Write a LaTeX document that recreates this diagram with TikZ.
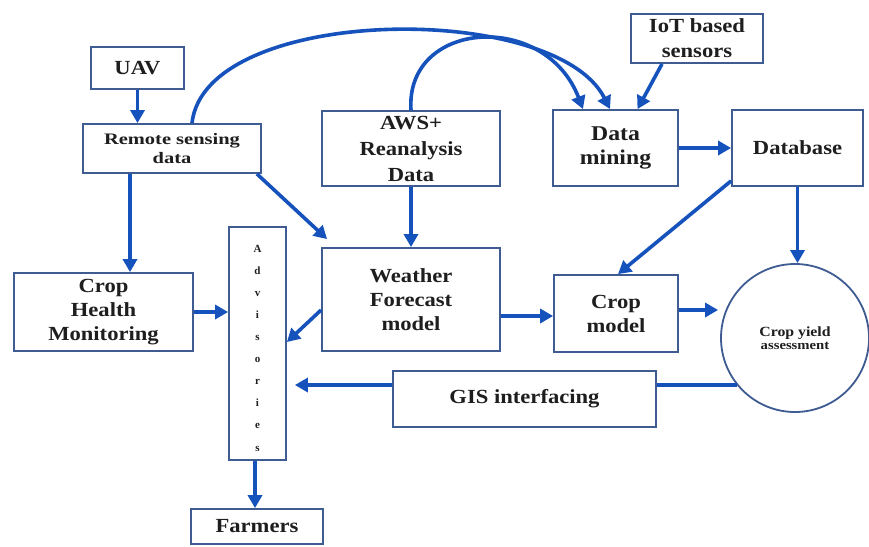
\documentclass[tikz,border=0pt]{standalone}
\usepackage{fontspec}
\setmainfont{Liberation Serif}
\newfontfamily\boxfont{Liberation Serif}[FakeStretch=1.13]
\newfontfamily\widefont{Liberation Serif}[FakeStretch=1.28]
\usetikzlibrary{arrows.meta,calc}
\definecolor{arrblue}{RGB}{22,82,188}
\definecolor{boxedge}{RGB}{62,92,145}
\definecolor{ink}{RGB}{30,30,30}
\begin{document}
\begin{tikzpicture}[x=1pt,y=-1pt,
  box/.style={draw=boxedge,line width=1.8pt,fill=white,inner sep=0pt,align=center,text=ink},
  arr/.style={draw=arrblue,line width=3.6pt,-{Triangle[length=13pt,width=14pt]}},
  link/.style={draw=arrblue,line width=3.6pt}]

% canvas
\fill[white] (0,0) rectangle (869,546);
\useasboundingbox (0,0) rectangle (869,546);

% boxes
\node[box,minimum width=93pt,minimum height=42pt,font=\boxfont\bfseries\fontsize{20}{24}\selectfont] (uav) at (137.5,68) {UAV};
\node[box,minimum width=178pt,minimum height=49pt,font=\widefont\bfseries\fontsize{16}{19}\selectfont] (rs) at (172,148.5) {Remote sensing\\data};
\node[box,minimum width=178pt,minimum height=75pt,font=\boxfont\bfseries\fontsize{20}{26}\selectfont] (aws) at (411,148.5) {AWS+\\Reanalysis\\Data};
\node[box,minimum width=125pt,minimum height=76pt,font=\boxfont\bfseries\fontsize{21}{24}\selectfont] (dm) at (615.5,148) {Data\\mining};
\node[box,minimum width=131pt,minimum height=76pt,font=\boxfont\bfseries\fontsize{20}{22}\selectfont] (db) at (797.5,148) {Database};
\node[box,minimum width=132pt,minimum height=49pt,font=\boxfont\bfseries\fontsize{20}{25}\selectfont] (iot) at (697,38.5) {IoT based\\sensors};
\node[box,minimum width=179pt,minimum height=78pt,font=\boxfont\bfseries\fontsize{20}{24}\selectfont] (chm) at (103.5,312) {Crop\\Health\\Monitoring};
\node[box,minimum width=57pt,minimum height=233pt] (adv) at (257.5,343.5) {};
\node[text=ink,align=center,inner sep=0pt,font=\bfseries\fontsize{11}{22.1}\selectfont] (advtxt) at (257.5,348) {A\\d\\v\\i\\s\\o\\r\\i\\e\\s};
\node[box,minimum width=178pt,minimum height=103pt,font=\boxfont\bfseries\fontsize{20}{24}\selectfont] (wf) at (411,299.5) {Weather\\Forecast\\model};
\node[box,minimum width=124pt,minimum height=77pt,font=\boxfont\bfseries\fontsize{20}{24}\selectfont] (cm) at (616,313.5) {Crop\\model};
\node[box,circle,minimum size=148pt,font=\boxfont\bfseries] (cya) at (795,338) {\fontsize{14}{16}\selectfont Crop yield\\[1pt]\fontsize{13}{15}\selectfont assessment};
\node[box,minimum width=263pt,minimum height=56pt,font=\boxfont\bfseries\fontsize{20}{24}\selectfont] (gis) at (524.5,399) {GIS interfacing};
\node[box,minimum width=132pt,minimum height=35pt,font=\boxfont\bfseries\fontsize{20}{24}\selectfont] (farm) at (257,526.5) {Farmers};

% helper points
\coordinate (gisin) at ([yshift=14pt]gis.west);
\coordinate (gisout) at ($(gisin -| adv.east)+(8,0)$);

% connectors
\draw[arr] (uav.south) -- (rs.north -| uav.south);
\draw[arr] ([xshift=-42pt]rs.south) -- ([xshift=-42pt]rs.south |- chm.north);
\draw[arr] ([xshift=-5pt]rs.south east) -- ([xshift=6pt,yshift=8pt]wf.north west);
\draw[arr] (aws.south) -- (wf.north);
\draw[arr] (chm.east) -- (chm.east -| adv.west);
\draw[arr] ([yshift=-10.5pt]wf.west) -- ([yshift=1.5pt]adv.east);
\draw[arr] (gisin) -- (gisout);
\draw[arr] ([xshift=-2.5pt]adv.south) -- ([xshift=-2.5pt]adv.south |- farm.north);
\draw[arr] ([yshift=-16.5pt]wf.east) -- ([yshift=-16.5pt]wf.east -| cm.west);
\draw[arr] ([yshift=3.5pt]cm.east) -- ([yshift=3.5pt,xshift=-2pt]cm.east -| cya.west);
\draw[link] (cya.219.4) -- (cya.219.4 -| gis.east);
\draw[arr] (db.south) -- (db.south |- cya.north);
\draw[arr] ([yshift=6pt]db.south west) -- ([xshift=2pt]cm.north);
\draw[arr] (dm.east) -- (db.west);
\draw[arr] ([xshift=-35pt]iot.south) -- ([xshift=22pt]dm.north);

% curved feeds into data mining
\draw[arr] (aws.north) .. controls (405,20) and (545,10) .. ([xshift=-32.5pt]dm.north);
\draw[arr] ([xshift=20pt]rs.north) .. controls (205,5) and (555,0) .. ([xshift=-5.5pt]dm.north);
\end{tikzpicture}
\end{document}
